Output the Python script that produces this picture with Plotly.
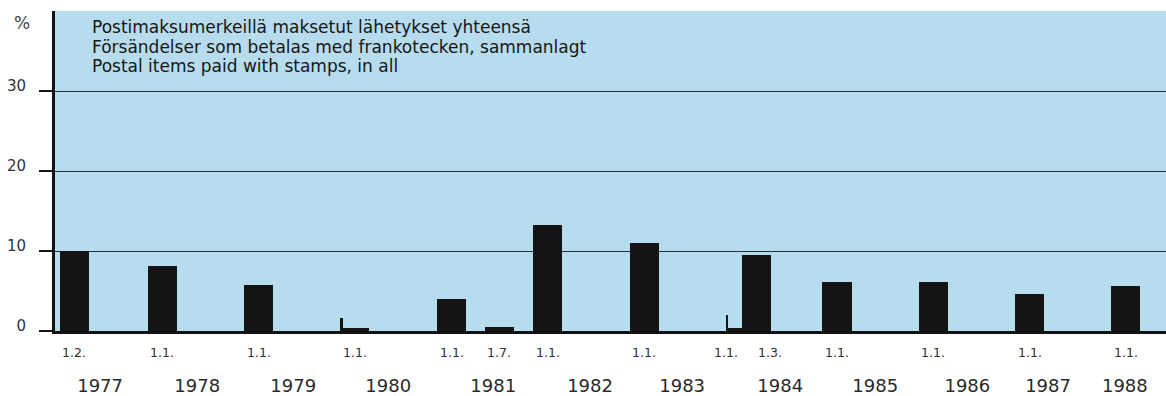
import pandas as pd
import plotly.graph_objects as go

# Dates of the postage rate changes and the average rise (%) for stamped items
change_dates = [
    "1977-02-01", "1978-01-01", "1979-01-01", "1980-01-01", "1981-01-01",
    "1981-07-01", "1982-01-01", "1983-01-01", "1984-01-01", "1984-03-01",
    "1985-01-01", "1986-01-01", "1987-01-01", "1988-01-01",
]
rise_pct = [10.0, 8.1, 5.7, 0.4, 4.0, 0.5, 13.2, 11.0, 0.4, 9.5, 6.1, 6.1, 4.6, 5.6]

# Partial rises drawn as thin strokes at the left edge of the bar
partial_dates = ["1980-01-01", "1984-01-01"]
partial_pct = [1.6, 2.0]

# Year captions along the time axis
year_labels = [str(y) for y in range(1977, 1989)]
year_label_dates = [
    "1977-05-10", "1978-05-13", "1979-05-12", "1980-05-06", "1981-06-08",
    "1982-06-10", "1983-05-25", "1984-05-31", "1985-05-26", "1986-05-10",
    "1987-03-12", "1987-12-28",
]

y_ticks = [0, 10, 20, 30]

title_lines = [
    "Postimaksumerkeillä maksetut lähetykset yhteensä",
    "Försändelser som betalas med frankotecken, sammanlagt",
    "Postal items paid with stamps, in all",
]

DAY_MS = 86400000
BAR_W = 110 * DAY_MS
STROKE_W = 8 * DAY_MS
BAR_COLOR = "#141414"
FONT = "DejaVu Sans"

fig = go.Figure()
fig.add_trace(go.Bar(
    x=change_dates, y=rise_pct, width=BAR_W,
    marker=dict(color=BAR_COLOR, line=dict(width=0)),
    hoverinfo="x+y", showlegend=False,
))
fig.add_trace(go.Bar(
    x=partial_dates, y=partial_pct, width=STROKE_W, offset=-BAR_W / 2,
    marker=dict(color=BAR_COLOR, line=dict(width=0)),
    hoverinfo="x+y", showlegend=False,
))

annotations = []
# day.month. caption under each bar; captions of changes that fall close
# together are pushed apart so they do not collide
dates = list(pd.to_datetime(change_dates))
for i, d in enumerate(dates):
    anchor = "center"
    if i + 1 < len(dates) and (dates[i + 1] - d).days < 90:
        anchor = "right"
    elif i > 0 and (d - dates[i - 1]).days < 90:
        anchor = "left"
    annotations.append(dict(
        x=d.strftime("%Y-%m-%d"), y=0, xref="x", yref="y",
        text=f"{d.day}.{d.month}.", showarrow=False,
        xanchor=anchor, yanchor="top", yshift=-12,
        font=dict(family=FONT, size=12.5, color="#303030"),
    ))

# three-language heading inside the plot
for line, ypos in zip(title_lines, [0.949, 0.888, 0.827]):
    annotations.append(dict(
        x=0.0315, y=ypos, xref="paper", yref="paper",
        text=line, showarrow=False, xanchor="left", yanchor="middle",
        font=dict(family=FONT, size=17, color="#161616"),
    ))

annotations.append(dict(
    x=-0.0387, y=0.962, xref="paper", yref="paper", text="%",
    showarrow=False, xanchor="left", yanchor="middle",
    font=dict(family=FONT, size=17, color="#444444"),
))

fig.update_layout(
    width=1166, height=396,
    margin=dict(l=55, r=0, t=11, b=60),
    paper_bgcolor="white", plot_bgcolor="#b7dcee",
    barmode="overlay", bargap=0,
    annotations=annotations,
    xaxis=dict(
        type="date", range=["1976-11-20", "1988-06-01"],
        tickmode="array", tickvals=year_label_dates, ticktext=year_labels,
        ticks="", showgrid=False, zeroline=False,
        showline=True, linewidth=3, linecolor="#111111",
        tickfont=dict(family=FONT, size=18, color="#2a2a2a"),
        ticklabelstandoff=36,
    ),
    yaxis=dict(
        range=[0, 40], tickmode="array", tickvals=y_ticks,
        ticktext=[str(v) for v in y_ticks],
        ticks="outside", ticklen=13, tickwidth=1.5, tickcolor="#111111",
        showline=True, linewidth=3, linecolor="#111111",
        showgrid=True, gridcolor="#22313a", gridwidth=1.2, zeroline=False,
        ticklabelposition="outside", ticklabelstandoff=10, ticklabelshift=-5,
        tickfont=dict(family=FONT, size=15, color="#333333"),
    ),
)

fig.write_html("out.html")
